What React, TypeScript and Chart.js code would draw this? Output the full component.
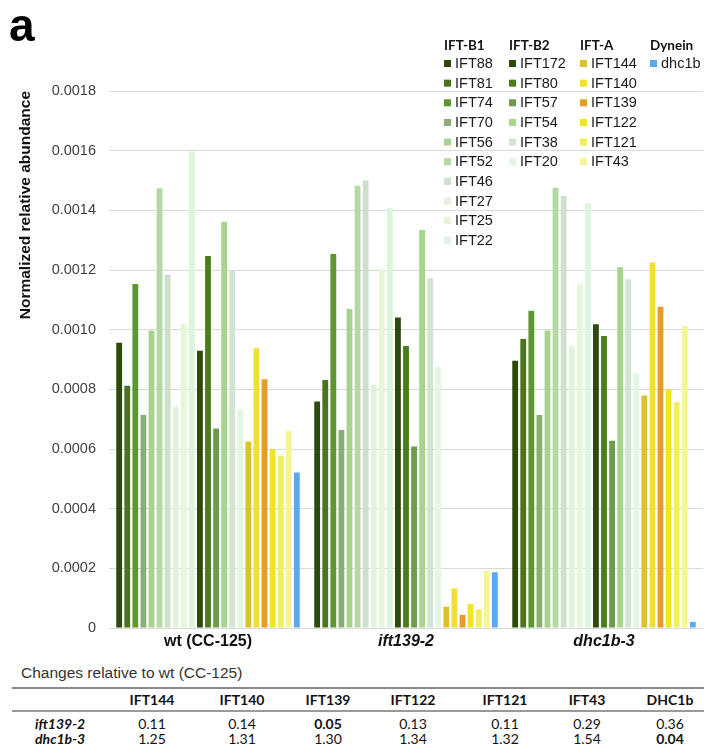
import React, { useEffect, useRef } from 'react';
import { Chart, registerables } from 'chart.js';

Chart.register(...registerables);

// ---------- data ----------
const strains = ['wt (CC-125)', 'ift139-2', 'dhc1b-3'];
const proteins = [
  'IFT88', 'IFT81', 'IFT74', 'IFT70', 'IFT56', 'IFT52', 'IFT46', 'IFT27', 'IFT25', 'IFT22',
  'IFT172', 'IFT80', 'IFT57', 'IFT54', 'IFT38', 'IFT20',
  'IFT144', 'IFT140', 'IFT139', 'IFT122', 'IFT121', 'IFT43',
  'dhc1b',
];
const groupNames = ['IFT-B1', 'IFT-B2', 'IFT-A', 'Dynein'];
const groupSizes = [10, 6, 6, 1];

const wtValues = [
  0.000956, 0.000812, 0.001153, 0.000714, 0.000997, 0.001474, 0.001185, 0.000742, 0.001018, 0.001597,
  0.000929, 0.001247, 0.000669, 0.001362, 0.001197, 0.000733,
  0.000625, 0.000938, 0.000834, 0.000599, 0.000577, 0.000661,
  0.000521,
];
const ift139Values = [
  0.000759, 0.000831, 0.001254, 0.000664, 0.001069, 0.001482, 0.0015, 0.000815, 0.001202, 0.001407,
  0.001041, 0.000945, 0.000608, 0.001334, 0.001172, 0.000876,
  0.0000715, 0.000133, 0.0000436, 0.0000805, 0.0000626, 0.000192,
  0.000187,
];
const dhc1bValues = [
  0.000896, 0.000969, 0.001063, 0.000714, 0.000997, 0.001476, 0.001448, 0.000946, 0.001155, 0.001424,
  0.001018, 0.000979, 0.000628, 0.001209, 0.001169, 0.000854,
  0.000779, 0.001225, 0.001077, 0.0008, 0.000757, 0.001012,
  0.00002,
];
const proteinColors = [
  '#2d4a0c', '#4a7420', '#5e9632', '#8aae74', '#a8d38f', '#b3d8a3', '#cde0cc', '#e1f2dd', '#e7f6d8', '#dcf5dc',
  '#2d4a0c', '#4b7d1e', '#6c9c4c', '#a6d58d', '#d0e5d0', '#e3f6e3',
  '#dcc22c', '#f0df3a', '#e69b2b', '#f0e524', '#f1ee62', '#f5f591',
  '#5aa9ef',
];

const yMax = 0.0018;
const yStep = 0.0002;

const tableTitle = 'Changes relative to wt (CC-125)';
const tableColumns = ['IFT144', 'IFT140', 'IFT139', 'IFT122', 'IFT121', 'IFT43', 'DHC1b'];
const tableRows = ['ift139-2', 'dhc1b-3'];
const ift139Ratios = ['0.11', '0.14', '0.05', '0.13', '0.11', '0.29', '0.36'];
const dhc1bRatios = ['1.25', '1.31', '1.30', '1.34', '1.32', '1.54', '0.04'];
const ift139Bold = [false, false, true, false, false, false, false];
const dhc1bBold = [false, false, false, false, false, false, true];

// ---------- legend plugin ----------
const legendCols = [444, 509, 580, 650];

const groupLegend = {
  id: 'groupLegend',
  afterDraw(chart: any) {
    const ctx = chart.ctx;
    ctx.save();
    ctx.textBaseline = 'middle';
    ctx.textAlign = 'left';
    let idx = 0;
    groupNames.forEach((g, gi) => {
      const x = legendCols[gi];
      ctx.font = 'bold 13.5px Lato, "Liberation Sans", sans-serif';
      ctx.fillStyle = '#111';
      ctx.fillText(g, x, 46);
      for (let k = 0; k < groupSizes[gi]; k++) {
        const ds = chart.data.datasets[idx++];
        const y = 63.5 + k * 19.65;
        ctx.fillStyle = ds.backgroundColor;
        ctx.fillRect(x, y - 3.5, 7, 7);
        ctx.fillStyle = '#1a1a1a';
        ctx.font = '14.5px "Liberation Sans", Arial, sans-serif';
        ctx.fillText(ds.label, x + 11, y + 0.5);
      }
    });
    ctx.restore();
  },
};

export default function App() {
  const canvasRef = useRef<HTMLCanvasElement | null>(null);

  useEffect(() => {
    if (!canvasRef.current) return;
    const datasets = proteins.map((p, i) => ({
      label: p,
      data: [wtValues[i], ift139Values[i], dhc1bValues[i]],
      backgroundColor: proteinColors[i],
      borderWidth: 0,
      barPercentage: 0.72,
      categoryPercentage: 0.938,
    }));
    const chart = new Chart(canvasRef.current, {
      type: 'bar',
      data: { labels: strains, datasets },
      options: {
        responsive: false,
        animation: false,
        layout: { padding: { top: 91, right: 4, bottom: 0, left: 0 } },
        plugins: { legend: { display: false }, tooltip: { enabled: false } },
        scales: {
          x: {
            grid: { display: false, drawTicks: false },
            border: { display: false },
            ticks: {
              padding: 4,
              color: '#111',
              font: (c: any) => ({
                family: '"Liberation Sans", Arial, sans-serif',
                size: 16,
                weight: 'bold',
                style: c.index > 0 ? 'italic' : 'normal',
              }),
            },
            afterFit: (s: any) => {
              s.height = 32;
              s.paddingLeft = 0;
              s.paddingRight = 0;
            },
          },
          y: {
            min: 0,
            max: yMax,
            grid: { color: '#d9d9d9', lineWidth: 1, drawTicks: false },
            border: { display: false },
            ticks: {
              stepSize: yStep,
              padding: 13,
              color: '#404040',
              font: { family: '"Liberation Sans", Arial, sans-serif', size: 14.5 },
              callback: (v: any) => (Number(v) === 0 ? '0' : Number(v).toFixed(4)),
            },
            title: {
              display: true,
              text: 'Normalized relative abundance',
              align: 'end',
              color: '#111',
              font: { family: '"Liberation Sans", Arial, sans-serif', size: 15.5, weight: 'bold' },
              padding: { top: 16, bottom: 0 },
            },
            afterFit: (s: any) => {
              s.width = 109;
              s.paddingTop = 0;
              s.paddingBottom = 0;
            },
          },
        },
      },
      plugins: [groupLegend],
    } as any);
    return () => chart.destroy();
  }, []);

  const colCenters = [152, 242, 328, 413, 505, 587, 670];
  const cell = (text: string, x: number, y: number, bold: boolean, extra: any = {}) => (
    <div
      key={`${text}-${x}-${y}`}
      style={{
        position: 'absolute',
        left: x - 50,
        top: y - 10,
        width: 100,
        height: 20,
        lineHeight: '20px',
        textAlign: 'center',
        fontFamily: 'Lato, "Liberation Sans", sans-serif',
        fontSize: 14,
        fontWeight: bold ? 'bold' : 'normal',
        color: '#111',
        ...extra,
      }}
    >
      {text}
    </div>
  );

  return (
    <div style={{ position: 'fixed', left: 0, top: 0, width: 707, height: 753, background: '#fff', overflow: 'hidden' }}>
      <canvas ref={canvasRef} width={707} height={660} style={{ position: 'absolute', left: 0, top: 0, width: 707, height: 660 }} />
      <div
        style={{
          position: 'absolute',
          left: 9,
          top: 2,
          fontFamily: '"Liberation Sans", Arial, sans-serif',
          fontWeight: 'bold',
          fontSize: 46,
          lineHeight: '46px',
          color: '#000',
        }}
      >
        a
      </div>
      <div
        style={{
          position: 'absolute',
          left: 21,
          top: 663,
          fontFamily: '"Liberation Sans", Arial, sans-serif',
          fontSize: 15.5,
          lineHeight: '20px',
          color: '#333',
          whiteSpace: 'nowrap',
        }}
      >
        {tableTitle}
      </div>
      <div style={{ position: 'absolute', left: 12, top: 687, width: 692, height: 2, background: '#8a8a8a' }} />
      <div style={{ position: 'absolute', left: 12, top: 710, width: 692, height: 2, background: '#9a9a9a' }} />
      {tableColumns.map((c, i) => cell(c, colCenters[i], 700, true))}
      {tableRows.map((r, ri) => (
        <div
          key={r}
          style={{
            position: 'absolute',
            left: 35,
            top: (ri === 0 ? 724 : 739) - 10,
            height: 20,
            lineHeight: '20px',
            fontFamily: 'Lato, "Liberation Sans", sans-serif',
            fontSize: 14,
            fontWeight: 'bold',
            fontStyle: 'italic',
            color: '#111',
          }}
        >
          {r}
        </div>
      ))}
      {ift139Ratios.map((v, i) => cell(v, colCenters[i], 724, ift139Bold[i]))}
      {dhc1bRatios.map((v, i) => cell(v, colCenters[i], 739, dhc1bBold[i]))}
    </div>
  );
}
